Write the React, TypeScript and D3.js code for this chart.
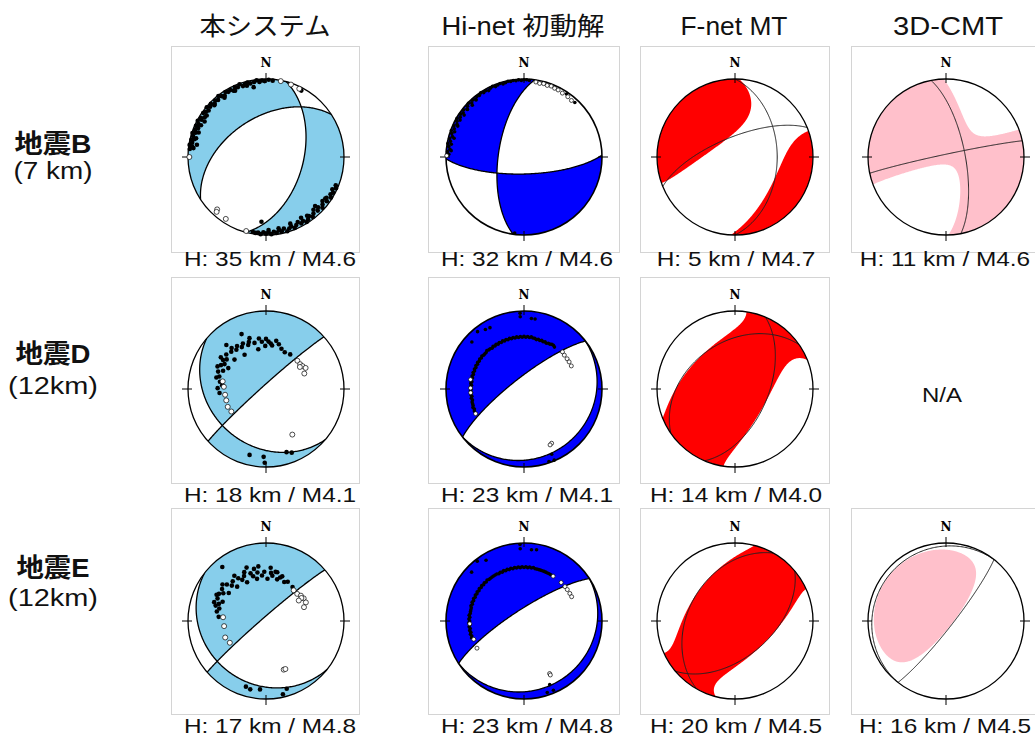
import React, { useMemo } from 'react';
import * as d3 from 'd3';

// ---------------- DATA ----------------
const COLUMN_TITLES = ['本システム', 'Hi-net 初動解', 'F-net MT', '3D-CMT'];
const ROW_NAMES = ['地震B', '地震D', '地震E'];
const ROW_DEPTHS = ['(7 km)', '(12km)', '(12km)'];
const PANEL_LABELS = [
  ['H: 35 km / M4.6', 'H: 32 km / M4.6', 'H: 5 km / M4.7', 'H: 11 km / M4.6'],
  ['H: 18 km / M4.1', 'H: 23 km / M4.1', 'H: 14 km / M4.0', null],
  ['H: 17 km / M4.8', 'H: 23 km / M4.8', 'H: 20 km / M4.5', 'H: 16 km / M4.5'],
];
const MISSING_TEXT = 'N/A';
const NORTH_LABEL = 'N';
const FILL_COLORS = ['#87CEEB', '#0000FF', '#FF0000', '#FFC0CB'];

// best double couple (strike, dip, rake) per [row][column]
const STRIKES = [[237, 188, 0, 349], [228, 232, 23, null], [229, 237, 50, 38]];
const DIPS = [[48, 63, 45, 70], [86, 78, 55, null], [86, 78, 52, 83]];
const RAKES = [[-59, -160, -150, -177], [-118, -90, 70, null], [-110, -90, 103, 90]];
// non double couple parts (null axis term, isotropic term)
const NULL_AXIS_TERMS = [[0, 0, -0.45, -0.2], [0, 0, 0.3, null], [0, 0, 0.2, -0.15]];
const ISOTROPIC_TERMS = [[0, 0, 0.19, 0.3], [0, 0, -0.03, null], [0, 0, 0, -0.02]];

// first-motion polarities: [azimuth, takeoff angle] in degrees
const B_SYS_UP = [
  [276, 88], [278, 85], [279, 89], [281, 86], [283, 88], [284, 84], [286, 87], [288, 89], [289, 85], [291, 87],
  [293, 84], [294, 88], [296, 86], [298, 89], [300, 85], [301, 87], [303, 83], [305, 88], [307, 86], [309, 84],
  [310, 89], [312, 86], [314, 88], [316, 84], [318, 87], [320, 85], [322, 89], [324, 86], [326, 84], [328, 88],
  [330, 86], [332, 87], [334, 84], [336, 88], [338, 86], [340, 89], [342, 85], [344, 87], [346, 88], [348, 86],
  [350, 80], [351, 87], [353, 89], [355, 86], [357, 88], [359, 87], [2, 89], [5, 88], [280, 79], [290, 81],
  [300, 80], [296, 82], [28, 86], [285, 82], [305, 82], [315, 83], [325, 82], [335, 83], [345, 84], [277, 83],
  [112, 86], [114, 88], [116, 84], [118, 87], [120, 85], [122, 88], [124, 83], [126, 86], [128, 81], [130, 84],
  [132, 87], [134, 82], [136, 85], [138, 80], [140, 84], [142, 87], [144, 83], [146, 86], [148, 88], [150, 84],
  [152, 86], [154, 82], [156, 85], [158, 88], [160, 84], [162, 86], [164, 89], [166, 84], [168, 87], [170, 85],
  [172, 88], [174, 86], [176, 89], [178, 86], [180, 88], [182, 86], [184, 89], [186, 87], [188, 88], [190, 87],
  [150, 79], [135, 78], [160, 80], [184, 72], [125, 82], [145, 81], [170, 82], [178, 83],
];
const B_SYS_DOWN = [[270, 88], [11, 89], [19, 88], [26, 87], [223, 81], [222, 84], [213, 84], [195, 88]];

const B_HINET_UP = [
  [272, 86], [274, 88], [276, 85], [278, 87], [280, 89], [282, 86], [284, 88], [286, 85], [288, 87], [290, 89],
  [292, 86], [294, 88], [296, 85], [298, 87], [300, 89], [302, 86], [304, 88], [306, 86], [308, 88], [310, 85],
  [312, 87], [314, 89], [316, 86], [318, 88], [320, 86], [322, 88], [324, 87], [326, 89], [328, 87], [330, 88],
  [332, 86], [334, 88], [336, 89], [338, 87], [340, 88], [342, 89], [344, 87], [346, 88], [348, 89], [350, 88],
  [352, 89], [354, 88], [356, 89], [358, 88], [0, 89], [2, 89], [4, 88], [275, 83], [280, 84], [285, 82],
  [290, 84], [295, 83], [300, 84], [305, 83], [310, 84], [315, 83], [320, 85], [34, 87], [43, 85], [187, 88],
];
const B_HINET_DOWN = [[9, 87], [12, 86], [15, 87], [18, 86], [21, 87], [24, 86], [27, 86], [31, 85], [36, 85], [40, 84], [271, 89]];

const D_SYS_UP = [
  [336, 66], [271, 52], [279, 50], [290, 55], [298, 55], [304, 56], [311, 57], [317, 55], [323, 53], [330, 52],
  [338, 51], [346, 51], [355, 51], [3, 51], [12, 53], [21, 46], [35, 45], [318, 65], [342, 58], [299, 46],
  [313, 46], [328, 43], [349, 43], [359, 46], [8, 47], [285, 52], [293, 50], [301, 52], [307, 53], [320, 58],
  [326, 56], [333, 55], [340, 54], [352, 55], [0, 54], [6, 49], [16, 50], [27, 44], [305, 60], [295, 58],
  [283, 55], [275, 47], [265, 50],
  [194, 76], [182, 76], [181, 84], [162, 74], [158, 77],
];
const D_SYS_DOWN = [[280, 47], [273, 45], [262, 44], [254, 44], [245, 45], [237, 44], [48, 45], [54, 45], [58, 46], [62, 48], [68, 44], [57, 43], [150, 57]];

const D_HINET_UP = [
  [246, 59], [248, 58], [250, 59], [252, 58], [254, 58], [256, 58], [258, 57], [260, 58], [262, 57], [264, 58],
  [266, 57], [268, 58], [270, 57], [272, 58], [274, 57], [276, 58], [278, 57], [280, 58], [282, 57], [284, 58],
  [286, 57], [288, 58], [290, 57], [292, 58], [294, 57], [296, 58], [298, 57], [300, 58], [302, 57], [304, 58],
  [306, 57], [308, 58], [310, 57], [312, 57], [314, 57], [316, 58], [318, 57], [320, 57], [322, 56], [324, 57],
  [326, 56], [328, 57], [330, 56], [332, 57], [334, 56], [336, 57], [338, 56], [340, 57], [342, 56], [344, 57],
  [346, 56], [348, 57], [350, 56], [352, 57], [354, 56], [356, 57], [358, 56], [0, 57], [2, 56], [4, 57],
  [6, 56], [8, 57], [10, 56], [12, 56], [14, 55], [16, 56], [18, 55], [20, 56], [22, 55], [24, 56],
  [26, 55], [28, 56], [30, 56], [32, 57], [34, 57], [36, 56],
  [357, 87], [357, 82], [6, 80], [9, 80], [321, 84], [327, 80], [331, 79], [312, 79], [157, 80], [161, 88], [157, 89],
];
const D_HINET_DOWN = [[280, 59], [271, 58], [266, 58], [243, 59], [46, 58], [50, 57], [55, 57], [59, 57], [64, 57], [153, 67], [155, 68]];

const E_SYS_UP = [
  [321, 78], [287, 57], [295, 58], [300, 59], [306, 59], [313, 58], [320, 56], [327, 55], [334, 54], [342, 54],
  [350, 53], [358, 53], [6, 52], [13, 54], [20, 51], [29, 48], [38, 46], [285, 52], [294, 51], [307, 50],
  [320, 48], [334, 46], [348, 46], [2, 45], [15, 46], [25, 46], [336, 58], [347, 58], [11, 54], [281, 54],
  [275, 51], [290, 54], [303, 55], [316, 53], [330, 51], [344, 50], [355, 49], [8, 49], [18, 49], [310, 62],
  [325, 60], [340, 62], [352, 60], [5, 58], [298, 61], [290, 60],
  [197, 77], [193, 79], [185, 77], [163, 80], [167, 86],
];
const E_SYS_DOWN = [[275, 46], [263, 45], [248, 47], [239, 45], [42, 44], [49, 44], [54, 46], [59, 47], [65, 47], [70, 43], [57, 45], [58, 41], [160, 56], [158, 56]];

const E_HINET_UP = [
  [252, 60], [254, 59], [256, 60], [258, 59], [260, 60], [262, 59], [264, 60], [266, 59], [268, 60], [270, 59],
  [272, 60], [274, 59], [276, 60], [278, 59], [280, 59], [282, 59], [284, 59], [286, 60], [288, 59], [290, 60],
  [292, 59], [294, 60], [296, 59], [298, 60], [300, 59], [302, 60], [304, 59], [306, 60], [308, 59], [310, 60],
  [312, 59], [314, 60], [316, 59], [318, 60], [320, 59], [322, 59], [324, 59], [326, 59], [328, 59], [330, 59],
  [332, 58], [334, 59], [336, 58], [338, 59], [340, 58], [342, 59], [344, 58], [346, 59], [348, 58], [350, 59],
  [352, 58], [354, 59], [356, 58], [358, 59], [0, 58], [2, 59], [4, 58], [6, 59], [8, 58], [10, 59],
  [12, 58], [14, 58], [16, 58], [18, 58], [20, 58], [22, 58], [24, 58], [26, 58], [28, 58], [30, 58],
  [357, 88], [357, 82], [6, 81], [10, 82], [322, 87], [328, 81], [313, 81], [158, 77], [162, 86], [157, 86],
];
const E_HINET_DOWN = [[267, 59], [250, 58], [240, 59], [33, 58], [44, 58], [50, 58], [54, 58], [59, 58], [63, 58], [154, 64], [154, 66]];

const POLARITY_UP = [[B_SYS_UP, B_HINET_UP, null, null], [D_SYS_UP, D_HINET_UP, null, null], [E_SYS_UP, E_HINET_UP, null, null]];
const POLARITY_DOWN = [[B_SYS_DOWN, B_HINET_DOWN, null, null], [D_SYS_DOWN, D_HINET_DOWN, null, null], [E_SYS_DOWN, E_HINET_DOWN, null, null]];

// ---------------- LAYOUT ----------------
const W = 1035;
const H = 737;
const COL_X = [266, 524, 735, 946];
const ROW_Y = [157, 389, 621];
const RADIUS = 78;
const BOX_LEFT = [171, 428, 640, 851];
const BOX_WIDTH = [188, 191, 189, 190];
const BOX_TOP = [46, 277, 508];
const BOX_HEIGHT = 206;
const TITLE_X = [265, 523, 734, 948];
const TITLE_W = [131, 163, 107, 110];
const TITLE_BASE = 35;
const LABEL_X = [270, 527, 736, 945];
const LABEL_BASE = [266, 502, 733];
const ROW_LABEL_X = 53;
const ROW_NAME_BASE = [153, 363, 577];
const ROW_NAME_W = [77, 75, 73];
const ROW_DEPTH_BASE = [179, 394, 606];
const ROW_DEPTH_W = [79, 90, 90];
const SANS = "'Liberation Sans', Arial, 'Noto Sans CJK JP', sans-serif";

// ---------------- GEOMETRY ----------------
type V3 = [number, number, number];
const DEG = Math.PI / 180;
const dot = (a: V3, b: V3) => a[0] * b[0] + a[1] * b[1] + a[2] * b[2];
const cross = (a: V3, b: V3): V3 => [a[1] * b[2] - a[2] * b[1], a[2] * b[0] - a[0] * b[2], a[0] * b[1] - a[1] * b[0]];
const unit = (a: V3): V3 => {
  const l = Math.hypot(a[0], a[1], a[2]) || 1;
  return [a[0] / l, a[1] / l, a[2] / l];
};

function mechanism(strike: number, dip: number, rake: number) {
  const f = strike * DEG, d = dip * DEG, l = rake * DEG;
  const n: V3 = [-Math.sin(d) * Math.sin(f), Math.sin(d) * Math.cos(f), -Math.cos(d)];
  const u: V3 = [
    Math.cos(l) * Math.cos(f) + Math.cos(d) * Math.sin(l) * Math.sin(f),
    Math.cos(l) * Math.sin(f) - Math.cos(d) * Math.sin(l) * Math.cos(f),
    -Math.sin(l) * Math.sin(d),
  ];
  const T = unit([n[0] + u[0], n[1] + u[1], n[2] + u[2]]);
  const P = unit([n[0] - u[0], n[1] - u[1], n[2] - u[2]]);
  const B = unit(cross(n, u));
  return { n, u, T, P, B };
}

const radial = d3.scaleSqrt().domain([0, 1]).range([0, RADIUS]);
const angle = d3.scaleLinear().domain([0, 360]).range([0, 2 * Math.PI]);
function project(az: number, takeoff: number): [number, number] {
  return d3.pointRadial(angle(az), radial(1 - Math.cos(takeoff * DEG))) as [number, number];
}
function projectVec(v: V3): [number, number] {
  const takeoff = Math.acos(Math.max(-1, Math.min(1, v[2]))) / DEG;
  const az = Math.atan2(v[1], v[0]) / DEG;
  return project(az, takeoff);
}

function planeCurve(m: V3): string {
  let a = cross(m, [0, 0, 1]);
  if (Math.hypot(a[0], a[1], a[2]) < 1e-6) a = [1, 0, 0];
  a = unit(a);
  let b = unit(cross(m, a));
  if (b[2] < 0) b = [-b[0], -b[1], -b[2]];
  const pts = d3.range(0, 181).map((k) => {
    const t = k * DEG;
    const v: V3 = [Math.cos(t) * a[0] + Math.sin(t) * b[0], Math.cos(t) * a[1] + Math.sin(t) * b[1], Math.cos(t) * a[2] + Math.sin(t) * b[2]];
    return projectVec(v);
  });
  return d3.line()(pts) || '';
}

const GRID = 240;
const EXT = 1.04;
function compressionPath(mech: any, cB: number, iso: number): string {
  const values = new Float64Array(GRID * GRID);
  for (let j = 0; j < GRID; j++) {
    for (let i = 0; i < GRID; i++) {
      const x = -EXT + (2 * EXT * (i + 0.5)) / GRID;
      const yd = -EXT + (2 * EXT * (j + 0.5)) / GRID;
      const rho2 = Math.min(x * x + yd * yd, 1);
      const ci = 1 - rho2;
      const si = Math.sqrt(Math.max(0, 1 - ci * ci));
      const az = Math.atan2(x, -yd);
      const g: V3 = [si * Math.cos(az), si * Math.sin(az), ci];
      const t = dot(g, mech.T), p = dot(g, mech.P), b = dot(g, mech.B);
      values[j * GRID + i] = t * t - p * p + cB * b * b + iso;
    }
  }
  const contour = d3.contours().size([GRID, GRID]).thresholds([0])(values as any)[0];
  const proj = d3.geoIdentity().scale((2 * EXT * RADIUS) / GRID).translate([-EXT * RADIUS, -EXT * RADIUS]);
  return d3.geoPath(proj as any)(contour as any) || '';
}

// ---------------- COMPONENTS ----------------
function Panel({ row, col }: { row: number; col: number }) {
  const data = useMemo(() => {
    const mech = mechanism(STRIKES[row][col] as number, DIPS[row][col] as number, RAKES[row][col] as number);
    const fill = compressionPath(mech, NULL_AXIS_TERMS[row][col] as number, ISOTROPIC_TERMS[row][col] as number);
    return { fill, plane1: planeCurve(mech.n), plane2: planeCurve(mech.u) };
  }, [row, col]);
  const cx = COL_X[col], cy = ROW_Y[row];
  const isMT = col >= 2;
  const isHinet = col === 1;
  const clipId = `clip-${row}-${col}`;
  const up = POLARITY_UP[row][col] || [];
  const down = POLARITY_DOWN[row][col] || [];
  const ticks = [0, 90, 180, 270].map((a) => [d3.pointRadial(angle(a), RADIUS - 4), d3.pointRadial(angle(a), RADIUS + 6)]);
  const dotR = isHinet ? 1.8 : 2.3;
  return (
    <g>
      <rect x={BOX_LEFT[col] + 0.5} y={BOX_TOP[row] + 0.5} width={BOX_WIDTH[col]} height={BOX_HEIGHT} fill="#fff" stroke="#d4d4d4" strokeWidth={1} />
      <g transform={`translate(${cx},${cy})`}>
        <defs>
          <clipPath id={clipId}>
            <circle r={RADIUS} />
          </clipPath>
        </defs>
        <g clipPath={`url(#${clipId})`}>
          <path d={data.fill} fill={FILL_COLORS[col]} fillRule="evenodd" stroke="none" />
          <path d={data.plane1} fill="none" stroke={isMT ? '#222' : '#000'} strokeWidth={isMT ? 1 : 1.3} />
          <path d={data.plane2} fill="none" stroke={isMT ? '#222' : '#000'} strokeWidth={isMT ? 1 : 1.3} />
        </g>
        <circle r={RADIUS} fill="none" stroke="#000" strokeWidth={isHinet ? 1.6 : 1.3} />
        {ticks.map((t, k) => (
          <line key={k} x1={t[0][0]} y1={t[0][1]} x2={t[1][0]} y2={t[1][1]} stroke="#000" strokeWidth={1} />
        ))}
        {up.map((p, k) => {
          const [x, y] = project(p[0], p[1]);
          return <circle key={`u${k}`} cx={x} cy={y} r={dotR} fill="#000" />;
        })}
        {down.map((p, k) => {
          const [x, y] = project(p[0], p[1]);
          return <circle key={`d${k}`} cx={x} cy={y} r={dotR + 0.2} fill="#fff" stroke="#000" strokeWidth={0.7} />;
        })}
        <text y={-RADIUS - 12} textAnchor="middle" fontFamily="'DejaVu Serif', 'Liberation Serif', serif" fontWeight="bold" fontSize={12} fill="#000">
          {NORTH_LABEL}
        </text>
      </g>
      <text
        transform={`translate(${LABEL_X[col]},${LABEL_BASE[row]}) scale(1.22,1)`}
        textAnchor="middle"
        fontFamily={SANS}
        fontSize={20}
        fill="#111"
      >
        {PANEL_LABELS[row][col]}
      </text>
    </g>
  );
}

export default function App() {
  const cells: { row: number; col: number }[] = [];
  for (let r = 0; r < 3; r++) for (let c = 0; c < 4; c++) if (STRIKES[r][c] !== null) cells.push({ row: r, col: c });
  return (
    <svg width={W} height={H} style={{ position: 'absolute', left: 0, top: 0, background: '#fff' }}>
      <rect x={0} y={0} width={W} height={H} fill="#fff" />
      {COLUMN_TITLES.map((t, c) => (
        <text key={t} x={TITLE_X[c]} y={TITLE_BASE} textAnchor="middle" fontFamily={SANS} fontSize={25} fill="#111" textLength={TITLE_W[c]} lengthAdjust="spacingAndGlyphs">
          {t}
        </text>
      ))}
      {ROW_NAMES.map((t, r) => (
        <g key={t}>
          <text x={ROW_LABEL_X} y={ROW_NAME_BASE[r]} textAnchor="middle" fontFamily={SANS} fontWeight="bold" fontSize={26} fill="#111" textLength={ROW_NAME_W[r]} lengthAdjust="spacingAndGlyphs">
            {t}
          </text>
          <text x={ROW_LABEL_X} y={ROW_DEPTH_BASE[r]} textAnchor="middle" fontFamily={SANS} fontSize={23} fill="#111" textLength={ROW_DEPTH_W[r]} lengthAdjust="spacingAndGlyphs">
            {ROW_DEPTHS[r]}
          </text>
        </g>
      ))}
      {cells.map(({ row, col }) => (
        <Panel key={`${row}-${col}`} row={row} col={col} />
      ))}
      <text transform={`translate(${942},${402}) scale(1.2,1)`} textAnchor="middle" fontFamily={SANS} fontSize={20} fill="#111">
        {MISSING_TEXT}
      </text>
    </svg>
  );
}
